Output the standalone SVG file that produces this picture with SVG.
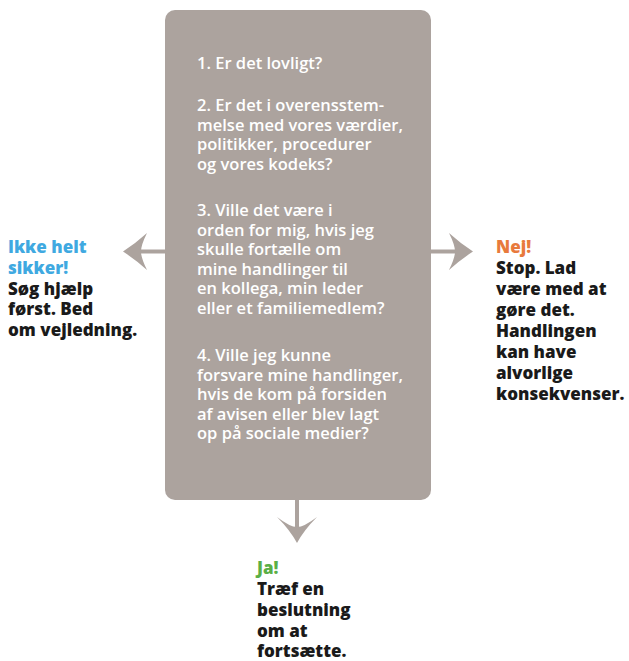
<svg xmlns="http://www.w3.org/2000/svg" width="629" height="661" viewBox="0 0 629 661">
<style>
.q{font-family:"Open Sans","Noto Sans","Liberation Sans",sans-serif;font-size:16.5px;font-weight:600;fill:#ffffff;}
.a{font-family:"Open Sans","Noto Sans","Liberation Sans",sans-serif;font-size:17px;font-weight:800;fill:#1a1a1a;}
.blue{fill:#3fa9e1;}
.orange{fill:#e87a3c;}
.green{fill:#5aaf46;}
.ln{stroke:#aca39e;stroke-width:4;fill:none;}
.hd{fill:#aca39e;}
</style>
<g id="connectors">
<line class="ln" x1="166" y1="251.5" x2="138" y2="251.5"/>
<path class="hd" d="M123,251.5 Q136,243 147,233 Q141,245 141,251.5 Q141,258 147,270 Q136,260 123,251.5 Z"/>
<line class="ln" x1="430" y1="251.5" x2="458" y2="251.5"/>
<path class="hd" d="M473,251.5 Q460,243 449,233 Q455,245 455,251.5 Q455,258 449,270 Q460,260 473,251.5 Z"/>
<line class="ln" x1="297" y1="499" x2="297" y2="530"/>
<path class="hd" d="M297,543 Q290,530 277,517 Q290,527 297,527 Q304,527 317,517 Q304,530 297,543 Z"/>
</g>
<g id="questions">
<rect x="165" y="10" width="266" height="490" rx="10" fill="#aca39e"/>
<text class="q" x="197" y="69">1. Er det lovligt?</text>
<text class="q"><tspan x="197" y="111">2. Er det i overensstem-</tspan><tspan x="197" y="131">melse med vores værdier,</tspan><tspan x="197" y="150">politikker, procedurer</tspan><tspan x="197" y="170">og vores kodeks?</tspan></text>
<text class="q"><tspan x="197" y="216">3. Ville det være i</tspan><tspan x="197" y="235.5">orden for mig, hvis jeg</tspan><tspan x="197" y="255">skulle fortælle om</tspan><tspan x="197" y="274.5">mine handlinger til</tspan><tspan x="197" y="294">en kollega, min leder</tspan><tspan x="197" y="313.5">eller et familiemedlem?</tspan></text>
<text class="q"><tspan x="197" y="361">4. Ville jeg kunne</tspan><tspan x="197" y="380.5">forsvare mine handlinger,</tspan><tspan x="197" y="400">hvis de kom på forsiden</tspan><tspan x="197" y="419.5">af avisen eller blev lagt</tspan><tspan x="197" y="439">op på sociale medier?</tspan></text>
</g>
<g id="unsure">
<text class="a"><tspan class="blue" x="8" y="253">Ikke helt</tspan><tspan class="blue" x="8" y="273.5">sikker!</tspan><tspan x="8" y="294.5">Søg hjælp</tspan><tspan x="8" y="315">først. Bed</tspan><tspan x="8" y="336">om vejledning.</tspan></text>
</g>
<g id="no">
<text class="a"><tspan class="orange" x="496" y="253">Nej!</tspan><tspan x="496" y="274">Stop. Lad</tspan><tspan x="496" y="295">være med at</tspan><tspan x="496" y="316">gøre det.</tspan><tspan x="496" y="337">Handlingen</tspan><tspan x="496" y="358">kan have</tspan><tspan x="496" y="379">alvorlige</tspan><tspan x="496" y="400">konsekvenser.</tspan></text>
</g>
<g id="yes">
<text class="a"><tspan class="green" x="257" y="574">Ja!</tspan><tspan x="257" y="595">Træf en</tspan><tspan x="257" y="616">beslutning</tspan><tspan x="257" y="637">om at</tspan><tspan x="257" y="657">fortsætte.</tspan></text>
</g>
</svg>
